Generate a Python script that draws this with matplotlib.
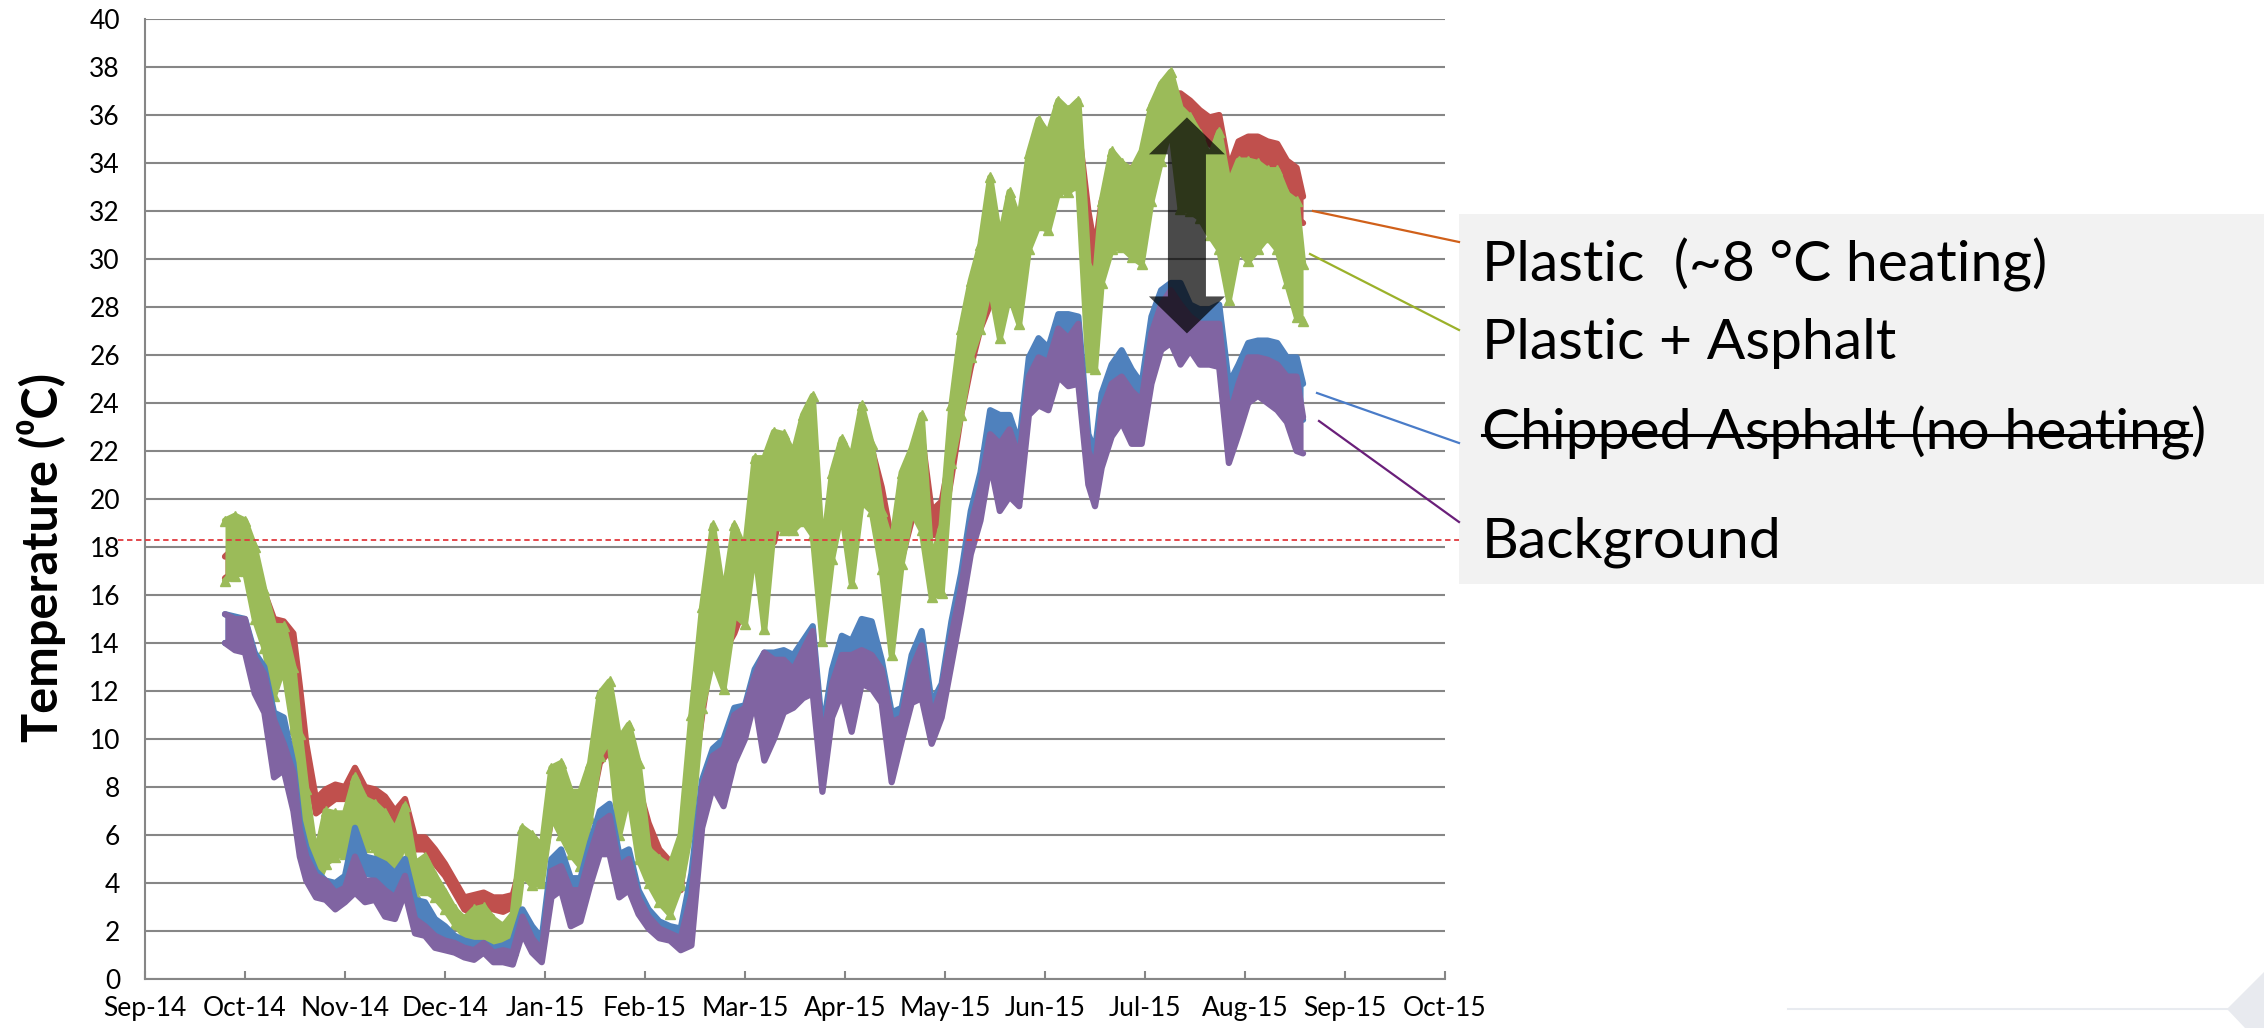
"""Road surface temperatures, Sep 2014 to Aug 2015, with the heating gap marked."""
import calendar

import matplotlib
matplotlib.use("Agg")
import matplotlib.pyplot as plt
from matplotlib.lines import Line2D
from matplotlib.patches import Polygon, Rectangle
from matplotlib.transforms import blended_transform_factory

plt.rcParams["font.family"] = ["Lato", "DejaVu Sans"]

W, H = 2264, 1028

# Sample dates and the daily low/high envelope of each sensor (deg C)
DATES = [
    "2014-09-25", "2014-09-28",
    "2014-10-01", "2014-10-04", "2014-10-07", "2014-10-10", "2014-10-13", "2014-10-16",
    "2014-10-18", "2014-10-20", "2014-10-23", "2014-10-26", "2014-10-29",
    "2014-11-01", "2014-11-04", "2014-11-07", "2014-11-10", "2014-11-13", "2014-11-16",
    "2014-11-19", "2014-11-22", "2014-11-25", "2014-11-28",
    "2014-12-01", "2014-12-04", "2014-12-07", "2014-12-10", "2014-12-13", "2014-12-16",
    "2014-12-19", "2014-12-22", "2014-12-25", "2014-12-28", "2014-12-31",
    "2015-01-03", "2015-01-06", "2015-01-09", "2015-01-12", "2015-01-15", "2015-01-18",
    "2015-01-21", "2015-01-24", "2015-01-27", "2015-01-30",
    "2015-02-02", "2015-02-05", "2015-02-08", "2015-02-11", "2015-02-14", "2015-02-17",
    "2015-02-20", "2015-02-23", "2015-02-26",
    "2015-03-01", "2015-03-04", "2015-03-07", "2015-03-10", "2015-03-13", "2015-03-16",
    "2015-03-19", "2015-03-22", "2015-03-25", "2015-03-28", "2015-03-31",
    "2015-04-03", "2015-04-06", "2015-04-09", "2015-04-12", "2015-04-15", "2015-04-18",
    "2015-04-21", "2015-04-24", "2015-04-27", "2015-04-30",
    "2015-05-03", "2015-05-06", "2015-05-09", "2015-05-12", "2015-05-15", "2015-05-18",
    "2015-05-21", "2015-05-24", "2015-05-27", "2015-05-30",
    "2015-06-02", "2015-06-05", "2015-06-08", "2015-06-11", "2015-06-14", "2015-06-16",
    "2015-06-18", "2015-06-21", "2015-06-24", "2015-06-27", "2015-06-30",
    "2015-07-03", "2015-07-06", "2015-07-09", "2015-07-12", "2015-07-15", "2015-07-18",
    "2015-07-21", "2015-07-24", "2015-07-27", "2015-07-30",
    "2015-08-02", "2015-08-05", "2015-08-08", "2015-08-11", "2015-08-14", "2015-08-17",
    "2015-08-19",
]

PLASTIC_LO = [
    16.7, 17.0, 17.5, 16.5, 15.2, 14.5, 14.4, 13.3, 11.3, 9.1, 6.9, 7.2, 7.5,
    7.5, 8.3, 7.5, 7.5, 6.8, 6.3, 6.9, 5.4, 5.4, 4.8,
    4.3, 3.6, 2.9, 2.7, 3.0, 2.9, 2.8, 3.0, 4.4, 4.9, 4.4,
    6.7, 6.8, 6.3, 5.8, 7.0, 9.0, 9.5, 8.0, 8.5, 7.0,
    5.7, 4.9, 4.4, 3.7, 7.7, 11.0, 13.9, 13.6, 14.4,
    15.6, 17.9, 18.0, 18.2, 20.1, 20.5, 20.7, 19.5, 17.5, 18.9, 20.7,
    19.9, 21.1, 20.9, 19.3, 17.1, 17.5, 19.1, 21.5, 18.5, 18.5,
    20.9, 23.5, 25.5, 27.1, 28.1, 28.5, 28.9, 29.1, 30.8, 32.8,
    33.2, 34.0, 33.8, 34.5, 30.9, 29.2, 30.4, 32.6, 32.8, 32.7, 32.1,
    34.5, 35.9, 35.9, 35.9, 35.5, 35.2, 34.8, 34.5, 32.6, 33.4,
    34.0, 34.1, 34.0, 33.5, 32.7, 31.7, 31.5,
]
PLASTIC_HI = [
    17.6, 18.0, 18.3, 17.3, 16.1, 15.0, 14.9, 14.4, 12.2, 9.8, 7.5, 7.9, 8.1,
    8.0, 8.8, 8.0, 7.9, 7.6, 7.0, 7.5, 5.9, 5.9, 5.4,
    4.8, 4.1, 3.4, 3.5, 3.6, 3.4, 3.4, 3.5, 5.0, 5.5, 5.0,
    7.3, 7.7, 7.2, 6.5, 8.0, 10.0, 10.1, 8.6, 9.3, 8.0,
    6.5, 5.4, 4.9, 4.0, 9.3, 11.9, 15.1, 14.6, 15.4,
    16.4, 18.7, 18.7, 19.7, 21.1, 21.5, 21.5, 21.5, 18.3, 19.9, 21.7,
    21.5, 22.3, 22.1, 20.5, 18.3, 18.7, 20.1, 22.7, 19.5, 19.9,
    22.1, 24.5, 26.5, 28.1, 29.1, 29.5, 29.9, 29.9, 31.8, 33.8,
    34.0, 35.0, 34.8, 35.5, 32.0, 30.4, 32.4, 33.5, 33.8, 33.8, 33.7,
    35.5, 36.6, 36.9, 36.9, 36.6, 36.2, 35.9, 36.0, 33.8, 34.9,
    35.1, 35.1, 34.9, 34.8, 34.1, 33.8, 32.6,
]

PLASTIC_ASPHALT_LO = [
    16.6, 16.8, 17.0, 15.0, 13.8, 11.8, 13.0, 10.4, 8.3, 6.3, 3.8, 4.8, 5.1,
    5.2, 5.5, 5.5, 5.5, 4.1, 4.4, 5.8, 3.6, 3.7, 3.4,
    2.9, 2.3, 1.8, 1.6, 1.6, 1.6, 1.1, 1.2, 4.4, 3.9, 4.0,
    6.8, 6.0, 5.2, 4.7, 6.7, 9.3, 10.0, 6.0, 7.7, 5.0,
    4.0, 3.2, 2.7, 3.9, 6.3, 11.3, 13.3, 12.1, 15.2,
    14.8, 18.0, 14.6, 18.9, 18.7, 18.7, 19.1, 18.5, 14.1, 17.5, 19.5,
    16.5, 19.9, 19.5, 17.1, 13.5, 17.3, 19.5, 18.7, 15.9, 16.1,
    21.5, 23.5, 25.9, 27.1, 28.9, 26.7, 28.5, 27.3, 30.4, 31.4,
    31.2, 32.8, 32.8, 33.1, 25.5, 25.4, 29.0, 30.4, 30.5, 30.1, 29.8,
    32.4, 34.1, 35.5, 32.1, 32.0, 31.7, 31.0, 30.4, 28.3, 30.4,
    29.9, 30.4, 30.9, 30.4, 29.0, 27.6, 27.4,
]
PLASTIC_ASPHALT_HI = [
    19.1, 19.3, 19.1, 18.0, 16.2, 14.7, 14.7, 13.0, 10.2, 7.9, 5.1, 7.0, 6.9,
    6.9, 8.4, 7.5, 7.3, 6.9, 6.2, 7.2, 4.8, 5.1, 4.3,
    3.6, 2.9, 2.5, 2.9, 3.0, 2.5, 2.2, 2.7, 6.3, 6.0, 5.5,
    8.8, 9.0, 7.8, 7.8, 9.0, 11.9, 12.4, 10.0, 10.6, 9.0,
    5.4, 5.0, 4.7, 6.0, 11.0, 15.5, 18.9, 15.9, 18.9,
    17.9, 21.7, 21.7, 22.8, 22.7, 21.9, 23.5, 24.3, 17.7, 21.1, 22.5,
    21.7, 23.9, 22.3, 19.5, 18.1, 21.1, 22.1, 23.5, 17.3, 18.9,
    23.9, 27.1, 29.1, 30.6, 33.4, 30.8, 32.8, 31.6, 34.4, 35.8,
    35.2, 36.6, 36.2, 36.6, 29.8, 29.1, 32.4, 34.5, 34.0, 33.7, 34.5,
    36.4, 37.3, 37.8, 36.3, 35.9, 35.2, 34.2, 35.3, 33.1, 34.1,
    34.1, 34.0, 33.7, 33.7, 32.7, 32.4, 29.8,
]

CHIPPED_LO = [
    14.0, 14.0, 14.1, 12.5, 11.9, 10.0, 9.8, 7.5, 5.5, 4.4, 3.7, 3.6, 3.3,
    3.6, 4.5, 4.4, 4.3, 3.7, 3.4, 4.1, 2.5, 2.5, 1.9,
    1.6, 1.3, 1.2, 1.1, 1.1, 0.9, 0.9, 1.1, 2.2, 1.6, 1.2,
    4.2, 4.5, 2.7, 2.7, 4.4, 6.0, 6.5, 4.0, 4.4, 3.0,
    2.4, 1.9, 1.7, 1.6, 2.7, 7.0, 8.3, 8.6, 10.0,
    10.3, 11.9, 12.6, 12.3, 12.3, 12.5, 13.1, 12.5, 9.2, 11.5, 13.1,
    12.5, 13.5, 13.5, 11.7, 9.6, 10.3, 11.9, 12.9, 9.9, 11.1,
    13.5, 15.9, 18.3, 19.9, 22.3, 21.1, 21.5, 19.9, 24.3, 25.1,
    24.7, 26.1, 25.9, 26.2, 21.3, 20.2, 22.7, 23.7, 23.9, 22.7, 23.2,
    25.5, 27.2, 27.6, 27.6, 26.8, 26.2, 26.8, 26.2, 22.0, 23.4,
    24.8, 24.8, 24.8, 24.1, 23.4, 23.4, 23.3,
]
CHIPPED_HI = [
    15.2, 15.1, 15.0, 13.6, 13.0, 11.1, 10.9, 9.0, 6.6, 5.5, 4.5, 4.1, 4.0,
    4.3, 6.3, 5.1, 5.0, 4.8, 4.4, 5.0, 3.3, 3.2, 2.5,
    2.2, 1.8, 1.6, 1.5, 1.5, 1.3, 1.4, 1.6, 2.9, 2.2, 1.7,
    5.0, 5.4, 4.2, 4.2, 5.7, 7.0, 7.3, 5.2, 5.4, 3.7,
    2.9, 2.4, 2.2, 2.1, 4.4, 8.3, 9.6, 10.0, 11.3,
    11.4, 12.9, 13.6, 13.6, 13.7, 13.5, 14.1, 14.7, 10.3, 12.9, 14.3,
    14.1, 15.0, 14.9, 13.3, 11.1, 11.3, 13.5, 14.5, 11.5, 12.3,
    14.9, 16.9, 19.5, 21.1, 23.7, 23.5, 23.5, 22.3, 25.9, 26.7,
    26.3, 27.7, 27.7, 27.6, 22.7, 22.0, 24.4, 25.6, 26.2, 25.4, 24.8,
    27.6, 28.7, 29.0, 29.0, 28.1, 27.9, 27.9, 28.1, 24.8, 25.6,
    26.5, 26.6, 26.6, 26.5, 25.9, 25.9, 24.8,
]

BACKGROUND_LO = [
    14.0, 13.7, 13.6, 11.9, 11.1, 8.4, 8.7, 7.0, 5.1, 4.1, 3.4, 3.3, 2.9,
    3.2, 3.6, 3.2, 3.3, 2.6, 2.5, 3.6, 1.9, 1.8, 1.3,
    1.2, 1.1, 0.9, 0.8, 1.1, 0.7, 0.7, 0.6, 1.9, 1.1, 0.7,
    3.4, 3.7, 2.2, 2.4, 3.9, 5.2, 5.2, 3.4, 3.7, 2.7,
    2.1, 1.7, 1.6, 1.2, 1.4, 6.3, 8.0, 7.2, 9.0,
    10.0, 11.6, 9.1, 10.0, 11.1, 11.3, 11.7, 11.9, 7.8, 10.9, 11.9,
    10.3, 12.3, 12.1, 11.5, 8.2, 9.9, 11.5, 11.7, 9.8, 10.9,
    13.1, 15.3, 17.7, 19.1, 21.5, 19.5, 20.1, 19.7, 23.5, 23.9,
    23.7, 25.1, 24.7, 24.8, 20.6, 19.7, 21.3, 22.6, 23.2, 22.3, 22.3,
    24.8, 26.2, 26.5, 25.6, 26.2, 25.6, 25.6, 25.5, 21.5, 22.7,
    24.0, 24.3, 24.0, 23.7, 23.2, 22.0, 21.9,
]
BACKGROUND_HI = [
    15.2, 15.0, 15.0, 13.4, 12.7, 10.8, 9.8, 8.6, 6.2, 5.1, 4.3, 4.1, 3.6,
    3.8, 5.1, 4.1, 4.1, 3.7, 3.4, 4.3, 2.5, 2.2, 1.8,
    1.6, 1.5, 1.3, 1.2, 1.5, 1.1, 1.2, 1.1, 2.6, 1.7, 1.2,
    4.5, 4.7, 3.7, 3.7, 5.2, 6.5, 6.8, 4.7, 5.0, 3.4,
    2.6, 2.1, 1.9, 1.7, 3.5, 8.0, 9.3, 9.6, 11.0,
    11.3, 12.6, 13.6, 13.3, 13.3, 12.9, 13.7, 14.5, 9.8, 12.3, 13.5,
    13.5, 13.7, 13.5, 12.9, 10.7, 10.9, 12.9, 13.9, 10.9, 12.1,
    14.3, 16.3, 18.9, 20.5, 22.7, 22.3, 22.9, 21.7, 25.1, 25.9,
    25.7, 27.1, 26.7, 27.3, 22.0, 21.3, 23.7, 24.8, 25.1, 24.5, 24.1,
    26.9, 28.1, 28.7, 28.1, 27.6, 27.3, 27.3, 27.3, 23.4, 24.8,
    25.9, 25.9, 25.8, 25.6, 25.1, 25.1, 23.4,
]

MONTH_LABELS = [
    "Sep-14", "Oct-14", "Nov-14", "Dec-14", "Jan-15", "Feb-15", "Mar-15",
    "Apr-15", "May-15", "Jun-15", "Jul-15", "Aug-15", "Sep-15", "Oct-15",
]

BASE_TEMP = 18.3            # heating base line
GAP_DATE = "2015-07-14"     # where the heating-gap arrow sits
GAP_TOP, GAP_BOTTOM = 35.9, 26.9

LEGEND_LINES = [
    ("Plastic  (~8 °C heating)", "#d0601a"),
    ("Plastic + Asphalt", "#9bb12a"),
    ("Chipped Asphalt (no heating)", "#4a7cc8"),
    ("Background", "#6a1f7a"),
]


def month_pos(date):
    """Months since 1 Sep 2014, each month one unit wide."""
    y, m, d = (int(p) for p in date.split("-"))
    return (y - 2014) * 12 + (m - 9) + (d - 1) / calendar.monthrange(y, m)[1]


def fx(px):
    return px / W


def fy(py):
    return 1 - py / H


fig = plt.figure(figsize=(W / 100, H / 100), dpi=100)
ax = fig.add_axes([fx(145), fy(979), fx(1445) - fx(145), fy(19) - fy(979)])

grid_color = "#868686"
ax.set_xlim(0, len(MONTH_LABELS) - 1)
ax.set_ylim(0, 40)
ax.set_yticks(range(0, 41, 2))
ax.set_xticks(range(len(MONTH_LABELS)))
ax.set_xticklabels(MONTH_LABELS)
ax.yaxis.grid(True, color=grid_color, lw=1.5)
ax.set_axisbelow(True)
for side in ("top", "right"):
    ax.spines[side].set_visible(False)
for side in ("left", "bottom"):
    ax.spines[side].set_color(grid_color)
    ax.spines[side].set_linewidth(1.5)
ax.tick_params(axis="y", length=0, pad=18, labelsize=19)
ax.tick_params(axis="x", direction="in", length=6, width=1.5, color=grid_color,
               pad=12, labelsize=19)

x = [month_pos(d) for d in DATES]
series = [
    (PLASTIC_LO, PLASTIC_HI, "#c0504d", None),
    (PLASTIC_ASPHALT_LO, PLASTIC_ASPHALT_HI, "#9bbb59", "^"),
    (CHIPPED_LO, CHIPPED_HI, "#4f81bd", None),
    (BACKGROUND_LO, BACKGROUND_HI, "#8064a2", None),
]
for i, (lo, hi, color, marker) in enumerate(series):
    z = 3 + i
    ax.fill_between(x, lo, hi, color=color, lw=0, zorder=z)
    for edge in (lo, hi):
        ax.plot(x, edge, color=color, lw=4.5, marker=marker, ms=7,
                solid_joinstyle="round", solid_capstyle="round", zorder=z)

# heating base temperature, running from the tick labels out to the legend box
base = blended_transform_factory(fig.transFigure, ax.transData)
ax.plot([fx(118), fx(1459)], [BASE_TEMP, BASE_TEMP], transform=base,
        color="#e0393e", lw=1.3, ls=(0, (3, 2)), clip_on=False, zorder=8)

# double-headed arrow showing the heating gap
xc = month_pos(GAP_DATE)
head_w, shaft_w, head_l = 0.38, 0.19, 1.54
arrow = Polygon([
    (xc, GAP_TOP), (xc + head_w, GAP_TOP - head_l), (xc + shaft_w, GAP_TOP - head_l),
    (xc + shaft_w, GAP_BOTTOM + head_l), (xc + head_w, GAP_BOTTOM + head_l),
    (xc, GAP_BOTTOM), (xc - head_w, GAP_BOTTOM + head_l),
    (xc - shaft_w, GAP_BOTTOM + head_l), (xc - shaft_w, GAP_TOP - head_l),
    (xc - head_w, GAP_TOP - head_l),
], closed=True, facecolor="black", edgecolor="none", alpha=0.71, zorder=10)
ax.add_patch(arrow)

fig.text(fx(42), fy(558), "Temperature (⁰C)", rotation=90, fontsize=35,
         fontweight="bold", ha="center", va="center")

# label panel with leader lines back to the series ends
fig.patches.append(Rectangle((fx(1459), fy(584)), 1 - fx(1459), fy(214) - fy(584),
                             transform=fig.transFigure, facecolor="#f2f2f2",
                             edgecolor="none", zorder=0))
leaders = [((1313, 211), (1459, 242)), ((1310, 254), (1459, 330)),
           ((1317, 393), (1459, 443)), ((1319, 421), (1459, 522))]
baselines = [282, 359, 449, 558]
for (label, color), (p0, p1), base_y in zip(LEGEND_LINES, leaders, baselines):
    fig.lines.append(Line2D([fx(p0[0]), fx(p1[0])], [fy(p0[1]), fy(p1[1])],
                            transform=fig.transFigure, color=color, lw=1.6))
    if "no heating" in label:
        struck = fig.text(fx(1482), fy(base_y), label[:-1], fontsize=41, va="baseline")
        fig.canvas.draw()
        bb = struck.get_window_extent()
        fig.text(bb.x1 / W, fy(base_y), label[-1], fontsize=41, va="baseline")
        fig.lines.append(Line2D([bb.x0 / W, bb.x1 / W], [fy(base_y - 14)] * 2,
                                transform=fig.transFigure, color="black", lw=2.2))
    else:
        fig.text(fx(1482), fy(base_y), label, fontsize=41, va="baseline")

# faint slide footer rule and corner tab
fig.lines.append(Line2D([fx(1788), fx(2227)], [fy(1009), fy(1009)],
                        transform=fig.transFigure, color="#e8ebf0", lw=1.5))
fig.patches.append(Polygon([(fx(2227), fy(1009)), (1, fy(972)), (1, fy(1028)),
                            (fx(2245), fy(1028))], closed=True,
                           transform=fig.transFigure, facecolor="#e8eaef",
                           edgecolor="none"))

fig.savefig("out.png", dpi=100)
